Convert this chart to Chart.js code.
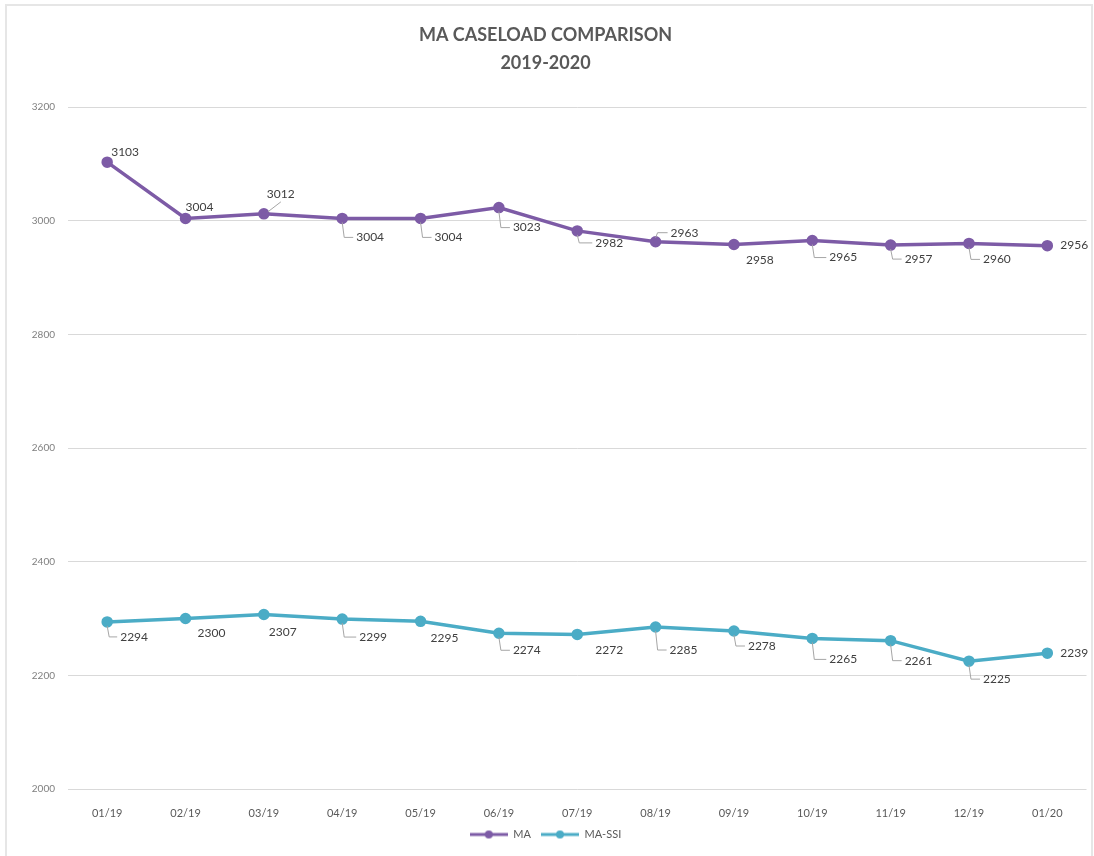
<!DOCTYPE html>
<html>
<head>
<meta charset="utf-8">
<title>MA Caseload Comparison</title>
<script src="https://cdn.jsdelivr.net/npm/chart.js@4.4.1/dist/chart.umd.min.js"></script>
<style>
  html, body { margin: 0; padding: 0; background: #ffffff; }
  canvas { display: block; }
</style>
</head>
<body>
<canvas id="caseChart" width="1094" height="856"></canvas>
<script>
const months = ['01/19', '02/19', '03/19', '04/19', '05/19', '06/19', '07/19',
                '08/19', '09/19', '10/19', '11/19', '12/19', '01/20'];
const maValues = [3103, 3004, 3012, 3004, 3004, 3023, 2982, 2963, 2958, 2965, 2957, 2960, 2956];
const maSsiValues = [2294, 2300, 2307, 2299, 2295, 2274, 2272, 2285, 2278, 2265, 2261, 2225, 2239];
const yTicks = [2000, 2200, 2400, 2600, 2800, 3000, 3200];

// where each data label sits next to its point: [dx, dy, leader]
// leader: 0 = none, 1 = elbow (down then across), 2 = short diagonal
const maLabelPlace = [
    [4, -10, 0], [0, -11, 0], [3, -20, 2], [14, 19, 1], [14, 19, 1], [14, 20, 1], [18, 12, 1],
    [15, -9, 1], [12, 16, 0], [17, 17, 1], [14, 14, 1], [14, 16, 1], [13, -1, 0]
];
const maSsiLabelPlace = [
    [13, 15, 1], [12, 15, 0], [5, 18, 0], [17, 18, 1], [10, 17, 0], [14, 17, 1], [18, 16, 0],
    [14, 23, 1], [14, 15, 1], [17, 21, 1], [14, 20, 1], [14, 18, 1], [13, 0, 0]
];

const MA_COLOR = '#7d5ba6';
const SSI_COLOR = '#4bacc6';
const FONT = 'Lato, "Liberation Sans", sans-serif';

// legend marker: short line with a dot in the middle, like the spreadsheet legend
function legendMarker(color) {
    const c = document.createElement('canvas');
    c.width = 38;
    c.height = 10;
    const g = c.getContext('2d');
    g.strokeStyle = color;
    g.lineWidth = 3;
    g.beginPath();
    g.moveTo(0, 5);
    g.lineTo(38, 5);
    g.stroke();
    g.fillStyle = color;
    g.beginPath();
    g.arc(19, 5, 4, 0, Math.PI * 2);
    g.fill();
    return c;
}

const frame = {
    id: 'frame',
    beforeDraw(chart) {
        const ctx = chart.ctx;
        ctx.save();
        ctx.fillStyle = '#ffffff';
        ctx.fillRect(0, 0, chart.width, chart.height);
        ctx.strokeStyle = '#e6e6e6';
        ctx.lineWidth = 2;
        ctx.strokeRect(6, 5, chart.width - 8, chart.height + 10);
        ctx.restore();
    }
};

const pointLabels = {
    id: 'pointLabels',
    afterDatasetsDraw(chart) {
        const ctx = chart.ctx;
        const places = [maLabelPlace, maSsiLabelPlace];
        ctx.save();
        ctx.font = '12px ' + FONT;
        ctx.textBaseline = 'middle';
        ctx.textAlign = 'left';
        chart.data.datasets.forEach((ds, di) => {
            const meta = chart.getDatasetMeta(di);
            meta.data.forEach((pt, i) => {
                const [dx, dy, leader] = places[di][i];
                const lx = pt.x + dx;
                const ly = pt.y + dy;
                ctx.strokeStyle = '#a6a6a6';
                ctx.lineWidth = 1;
                if (leader === 1) {
                    ctx.beginPath();
                    ctx.moveTo(pt.x, pt.y + (dy > 0 ? 4 : -4));
                    ctx.lineTo(pt.x + 2, ly);
                    ctx.lineTo(lx - 3, ly);
                    ctx.stroke();
                } else if (leader === 2) {
                    ctx.beginPath();
                    ctx.moveTo(pt.x + 4, pt.y - 2);
                    ctx.lineTo(lx + 14, ly + 8);
                    ctx.stroke();
                }
                ctx.fillStyle = '#404040';
                ctx.fillText(String(ds.data[i]), lx, ly);
            });
        });
        ctx.restore();
    }
};

new Chart(document.getElementById('caseChart'), {
    type: 'line',
    data: {
        labels: months,
        datasets: [{
            label: 'MA',
            data: maValues,
            borderColor: MA_COLOR,
            backgroundColor: MA_COLOR,
            borderWidth: 3.5,
            pointRadius: 4,
            pointBackgroundColor: MA_COLOR,
            pointBorderColor: MA_COLOR,
            pointStyle: 'circle',
            tension: 0
        }, {
            label: 'MA-SSI',
            data: maSsiValues,
            borderColor: SSI_COLOR,
            backgroundColor: SSI_COLOR,
            borderWidth: 3.5,
            pointRadius: 4,
            pointBackgroundColor: SSI_COLOR,
            pointBorderColor: SSI_COLOR,
            pointStyle: 'circle',
            tension: 0
        }]
    },
    options: {
        responsive: false,
        animation: false,
        layout: { padding: { left: 0, right: 3, top: 0, bottom: 6 } },
        plugins: {
            title: {
                display: true,
                text: ['MA CASELOAD COMPARISON', '2019-2020'],
                color: '#595959',
                font: { family: FONT, size: 18, weight: 'bold', lineHeight: '28px' },
                padding: { top: 21, bottom: 30 }
            },
            legend: {
                position: 'bottom',
                labels: {
                    color: '#595959',
                    font: { family: FONT, size: 11 },
                    usePointStyle: true,
                    pointStyleWidth: 38,
                    padding: 10,
                    generateLabels(chart) {
                        return chart.data.datasets.map((ds, i) => ({
                            text: ds.label,
                            fontColor: '#595959',
                            pointStyle: legendMarker(ds.borderColor),
                            hidden: false,
                            lineWidth: 0,
                            datasetIndex: i
                        }));
                    }
                }
            },
            tooltip: { enabled: false }
        },
        scales: {
            x: {
                offset: true,
                grid: { display: false },
                border: { display: false },
                ticks: {
                    color: '#595959',
                    font: { family: FONT, size: 11 },
                    padding: 10,
                    maxRotation: 0
                },
                afterFit(scale) { scale.height = 30; }
            },
            y: {
                min: 2000,
                max: 3200,
                afterBuildTicks(scale) {
                    scale.ticks = yTicks.map(v => ({ value: v }));
                },
                grid: { color: '#d9d9d9', lineWidth: 1, drawTicks: false },
                border: { display: false },
                ticks: {
                    color: '#7f7f7f',
                    font: { family: FONT, size: 10 },
                    padding: 13,
                    callback: v => String(v)
                },
                afterFit(scale) { scale.width = 68; }
            }
        }
    },
    plugins: [frame, pointLabels]
});
</script>
</body>
</html>
